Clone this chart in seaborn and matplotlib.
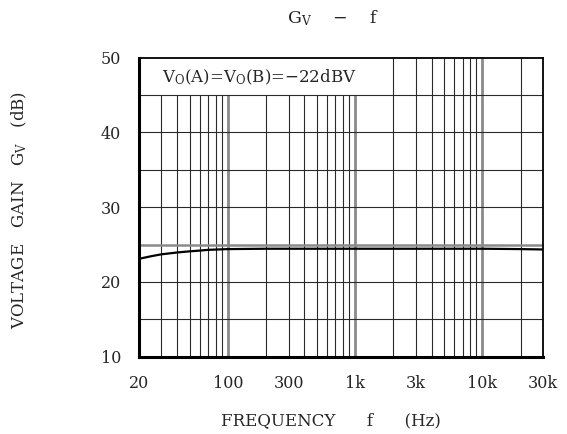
import numpy as np
import pandas as pd
import matplotlib
matplotlib.use("Agg")
import matplotlib.pyplot as plt
import seaborn as sns

# ---- data ----
freq_hz = [20, 25, 30, 40, 50, 60, 70, 100, 200, 500, 1000, 2000, 5000, 10000, 20000, 30000]
gain_db = [23.1, 23.45, 23.7, 23.95, 24.1, 24.2, 24.3, 24.4, 24.45, 24.45, 24.45, 24.45, 24.45, 24.45, 24.4, 24.35]

x_tick_values = [20, 100, 300, 1000, 3000, 10000, 30000]
x_tick_labels = ["20", "100", "300", "1k", "3k", "10k", "30k"]
y_tick_values = [10, 20, 30, 40, 50]
y_grid_values = [15, 20, 25, 30, 35, 40, 45]
x_grid_values = [30, 40, 50, 60, 70, 80, 90, 100,
                 200, 300, 400, 500, 600, 700, 800, 900, 1000,
                 2000, 3000, 4000, 5000, 6000, 7000, 8000, 9000, 10000, 20000]
decade_values = [100, 1000, 10000]

sns.set_style("white")
plt.rcParams["font.family"] = ["DejaVu Serif"]
plt.rcParams["mathtext.fontset"] = "dejavuserif"

fig = plt.figure(figsize=(5.67, 4.34), dpi=100)
ax = fig.add_axes([0.2451, 0.178, 0.9577 - 0.2451, 0.867 - 0.178])

ax.set_xscale("log")
ax.set_xlim(20, 30000)
ax.set_ylim(10, 50)

# grid: vertical lines stop at the 45 dB line left of 2 kHz (label box)
for f in x_grid_values:
    top = 50 if f >= 2000 else 45
    if f in decade_values:
        ax.vlines(f, 10, top, colors="#8a8a8a", linewidth=2.0, zorder=1)
    else:
        ax.vlines(f, 10, top, colors="#2a2a2a", linewidth=0.8, zorder=1)
for g in y_grid_values:
    if g == 25:
        ax.axhline(g, color="#8a8a8a", linewidth=1.8, zorder=1)
    else:
        ax.axhline(g, color="#2a2a2a", linewidth=0.8, zorder=1)

df = pd.DataFrame({"f": freq_hz, "G": gain_db})
sns.lineplot(data=df, x="f", y="G", ax=ax, color="black", linewidth=1.6, zorder=3)

ax.set_xticks(x_tick_values)
ax.set_xticklabels(x_tick_labels)
ax.xaxis.set_minor_locator(matplotlib.ticker.NullLocator())
ax.set_yticks(y_tick_values)
ax.tick_params(axis="both", length=0, labelsize=11.5)
ax.tick_params(axis="x", pad=13)
ax.tick_params(axis="y", pad=13)

for side in ["top", "right"]:
    ax.spines[side].set_linewidth(1.3)
    ax.spines[side].set_color("black")
for side in ["left", "bottom"]:
    ax.spines[side].set_linewidth(2.2)
    ax.spines[side].set_color("black")

ax.set_xlabel("FREQUENCY      f      (Hz)", fontsize=12)
ax.xaxis.set_label_coords(0.475, -0.215)
ax.xaxis.label.set_verticalalignment("center")

ax.set_ylabel(r"VOLTAGE   GAIN   $\mathregular{G_V}$   (dB)", fontsize=12)
ax.yaxis.set_label_coords(-0.295, 0.49)
ax.yaxis.label.set_verticalalignment("center")

ax.text(30.3, 47.4, r"V$_\mathregular{O}$(A)=V$_\mathregular{O}$(B)=$-$22dBV", fontsize=12,
        va="center", ha="left")

fig.text(0.587, 0.958, r"$\mathregular{G_V}$    $-$    f", fontsize=12.5, ha="center", va="center")

fig.savefig("out.png", dpi=100)
